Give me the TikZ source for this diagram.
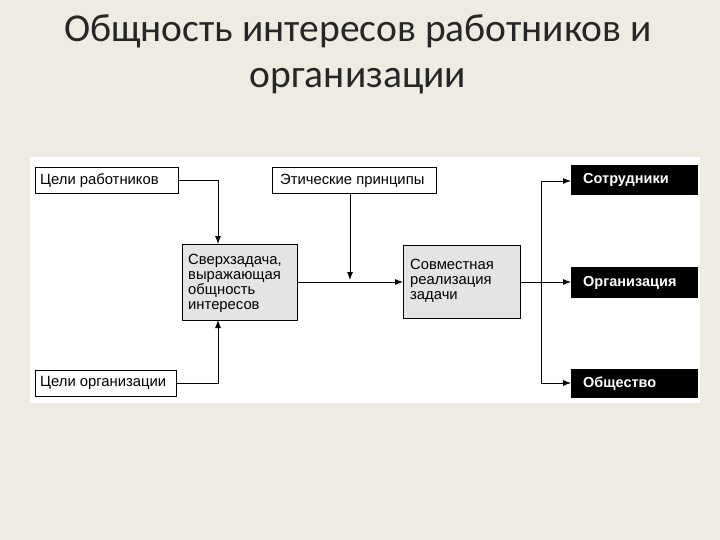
\documentclass[tikz,border=0pt]{standalone}
\usepackage{fontspec}
\setmainfont{Carlito}
\newfontfamily\arialf{Liberation Sans}
\usetikzlibrary{arrows.meta}
\definecolor{bg}{HTML}{EEEBE3}
\definecolor{gbox}{HTML}{E4E4E4}
\begin{document}
\begin{tikzpicture}[x=1pt,y=-1pt,
  wbox/.style={draw=black,line width=0.8pt,fill=white,inner sep=0pt,anchor=north west},
  gbx/.style={draw=black,line width=0.8pt,fill=gbox,inner sep=0pt,anchor=north west},
  kbox/.style={fill=black,inner sep=0pt,anchor=north west},
  txt/.style={font=\arialf\fontsize{14.8}{15}\selectfont,anchor=west,inner sep=0pt,align=left},
  ktxt/.style={txt,text=white,font=\arialf\bfseries\fontsize{14.5}{15}\selectfont},
  arr/.style={line width=0.9pt,-{Latex[length=8pt,width=6pt]}},
  ln/.style={line width=0.9pt}]
\useasboundingbox (0,0) rectangle (720,540);
\fill[bg] (0,0) rectangle (720,540);
\node[font=\fontsize{39.5}{46}\selectfont,align=center,text=black!85] (title) at (358,54) {Общность интересов работников и\\организации};
\fill[white] (30,157) rectangle (700,403);
\node[wbox,minimum width=143pt,minimum height=26pt] (cr) at (35,167) {};
\node[txt] at ([xshift=5pt]cr.west) {Цели работников};
\node[wbox,minimum width=164pt,minimum height=26pt] (ep) at (272,167) {};
\node[txt] at ([xshift=8pt]ep.west) {Этические принципы};
\node[wbox,minimum width=141pt,minimum height=26pt] (co) at (35,370) {};
\node[txt] at ([xshift=5pt]co.west) {Цели организации};
\node[gbx,minimum width=115pt,minimum height=76pt] (sz) at (182,244) {};
\node[txt,anchor=north west] at (188,254) {Сверхзадача,\\выражающая\\общность\\интересов};
\node[gbx,minimum width=117pt,minimum height=73pt] (sr) at (403,245) {};
\node[txt,anchor=north west] at (410,259) {Совместная\\реализация\\задачи};
\node[kbox,minimum width=127pt,minimum height=30pt] (s1) at (571,165) {};
\node[ktxt] at ([xshift=12pt]s1.west) {Сотрудники};
\node[kbox,minimum width=127pt,minimum height=31pt] (s2) at (571,267) {};
\node[ktxt] at ([xshift=12pt]s2.west) {Организация};
\node[kbox,minimum width=127pt,minimum height=29pt] (s3) at (571,369) {};
\node[ktxt] at ([xshift=12pt]s3.west) {Общество};
\draw[arr] (cr.east) -| (218,244);
\draw[arr] (co.east) -| (218,320);
\draw[arr] (sz.east |- 0,282) -- (sr.west |- 0,282);
\draw[arr] (ep.south -| 350,0) -- (350,280);
\coordinate (j) at (541,282);
\draw[ln] (sr.east |- j) -- (j);
\draw[ln] (541,181) -- (541,383);
\draw[arr] (541,181) -- (s1.west |- 0,181);
\draw[arr] (j) -- (s2.west |- j);
\draw[arr] (541,383) -- (s3.west |- 0,383);
\end{tikzpicture}
\end{document}
